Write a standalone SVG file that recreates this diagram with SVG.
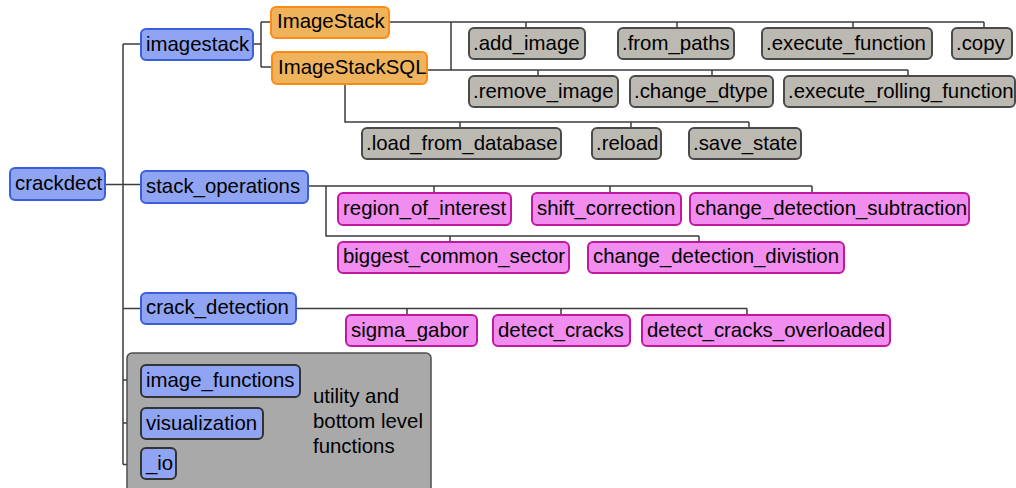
<svg xmlns="http://www.w3.org/2000/svg" width="1016" height="488" viewBox="0 0 1016 488">
<style>
text{font-family:"Liberation Sans",Arial,sans-serif;font-size:20.4px;fill:#000}
.blue{fill:#8fa4f2;stroke:#3b5fd6;stroke-width:2}
.orange{fill:#efb35c;stroke:#ff8a14;stroke-width:2}
.gray{fill:#bcb9b2;stroke:#4a4a4a;stroke-width:2}
.pink{fill:#f08def;stroke:#c0189e;stroke-width:2}
.cont{fill:#a9a9a9;stroke:#4f4f4f;stroke-width:1.5}
#connectors path{fill:none;stroke:#3c3c3c;stroke-width:1.5}
</style>
<rect width="1016" height="488" fill="#fff"/>
<g id="connectors">
<path d="M105,184.5H123M123,44V464.5M123,44H141M123,184.5H141M123,308.5H141M123,380H141M123,423H141M123,464.5H141"/>
<path d="M253,44H261M261,22V67M261,22H271M261,67H272"/>
<path d="M389,22H984M526,22V28M677,22V28M853,22V28M984,22V28M451,22V70"/>
<path d="M427,70H908M538,70V76M712,70V76M908,70V76"/>
<path d="M345,84V122H749M460,122V128M631,122V128M749,122V128"/>
<path d="M308,186H812M434,186V193M610,186V193M812,186V193M326,186V236H699M450,236V242M699,236V242"/>
<path d="M296,308.5H747M407,308.5V315M561,308.5V315M747,308.5V315"/>
</g>
<g id="utility-group"><rect class="cont" x="127" y="353" width="304" height="145" rx="5"/>
<text x="313" y="403">utility and</text><text x="313" y="428">bottom level</text><text x="313" y="453">functions</text></g>
<g id="crackdect"><rect class="blue" x="10" y="168" width="95" height="32" rx="5"/><text x="15" y="190">crackdect</text></g>
<g id="imagestack"><rect class="blue" x="141" y="29" width="112" height="31" rx="5"/><text x="146" y="51">imagestack</text></g>
<g id="ImageStack"><rect class="orange" x="271" y="7" width="118" height="31" rx="5"/><text x="277" y="28">ImageStack</text></g>
<g id="ImageStackSQL"><rect class="orange" x="272" y="52" width="155" height="32" rx="5"/><text x="278" y="74">ImageStackSQL</text></g>
<g id="add_image"><rect class="gray" x="469" y="28" width="116" height="31" rx="5"/><text x="473" y="50">.add_image</text></g>
<g id="from_paths"><rect class="gray" x="618" y="28" width="116" height="31" rx="5"/><text x="622" y="50">.from_paths</text></g>
<g id="execute_function"><rect class="gray" x="762" y="28" width="170" height="31" rx="5"/><text x="766" y="50">.execute_function</text></g>
<g id="copy"><rect class="gray" x="952" y="28" width="60" height="31" rx="5"/><text x="956" y="50">.copy</text></g>
<g id="remove_image"><rect class="gray" x="469" y="76" width="149" height="31" rx="5"/><text x="473" y="98">.remove_image</text></g>
<g id="change_dtype"><rect class="gray" x="630" y="76" width="143" height="31" rx="5"/><text x="634" y="98">.change_dtype</text></g>
<g id="execute_rolling_function"><rect class="gray" x="784" y="76" width="231" height="31" rx="5"/><text x="788" y="98">.execute_rolling_function</text></g>
<g id="load_from_database"><rect class="gray" x="362" y="128" width="199" height="31" rx="5"/><text x="366" y="150">.load_from_database</text></g>
<g id="reload"><rect class="gray" x="592" y="128" width="69" height="31" rx="5"/><text x="596" y="150">.reload</text></g>
<g id="save_state"><rect class="gray" x="689" y="128" width="112" height="31" rx="5"/><text x="693" y="150">.save_state</text></g>
<g id="stack_operations"><rect class="blue" x="141" y="171" width="167" height="32" rx="5"/><text x="146" y="193">stack_operations</text></g>
<g id="region_of_interest"><rect class="pink" x="338" y="193" width="173" height="32" rx="5"/><text x="343" y="215">region_of_interest</text></g>
<g id="shift_correction"><rect class="pink" x="532" y="193" width="149" height="32" rx="5"/><text x="537" y="215">shift_correction</text></g>
<g id="change_detection_subtraction"><rect class="pink" x="690" y="193" width="279" height="32" rx="5"/><text x="695" y="215">change_detection_subtraction</text></g>
<g id="biggest_common_sector"><rect class="pink" x="338" y="242" width="231" height="31" rx="5"/><text x="343" y="263">biggest_common_sector</text></g>
<g id="change_detection_division"><rect class="pink" x="588" y="242" width="256" height="31" rx="5"/><text x="593" y="263">change_detection_divistion</text></g>
<g id="crack_detection"><rect class="blue" x="141" y="293" width="155" height="31" rx="5"/><text x="146" y="314">crack_detection</text></g>
<g id="sigma_gabor"><rect class="pink" x="346" y="315" width="131" height="31" rx="5"/><text x="351" y="337">sigma_gabor</text></g>
<g id="detect_cracks"><rect class="pink" x="493" y="315" width="137" height="31" rx="5"/><text x="498" y="337">detect_cracks</text></g>
<g id="detect_cracks_overloaded"><rect class="pink" x="642" y="315" width="248" height="31" rx="5"/><text x="647" y="337">detect_cracks_overloaded</text></g>
<g id="image_functions"><rect class="blue" x="141" y="365" width="159" height="32" rx="5" style="stroke:#333"/><text x="146" y="387">image_functions</text></g>
<g id="visualization"><rect class="blue" x="141" y="408" width="122" height="31" rx="5" style="stroke:#333"/><text x="146" y="430">visualization</text></g>
<g id="_io"><rect class="blue" x="141" y="448" width="35" height="31" rx="5" style="stroke:#333"/><text x="146" y="470">_io</text></g>
</svg>
